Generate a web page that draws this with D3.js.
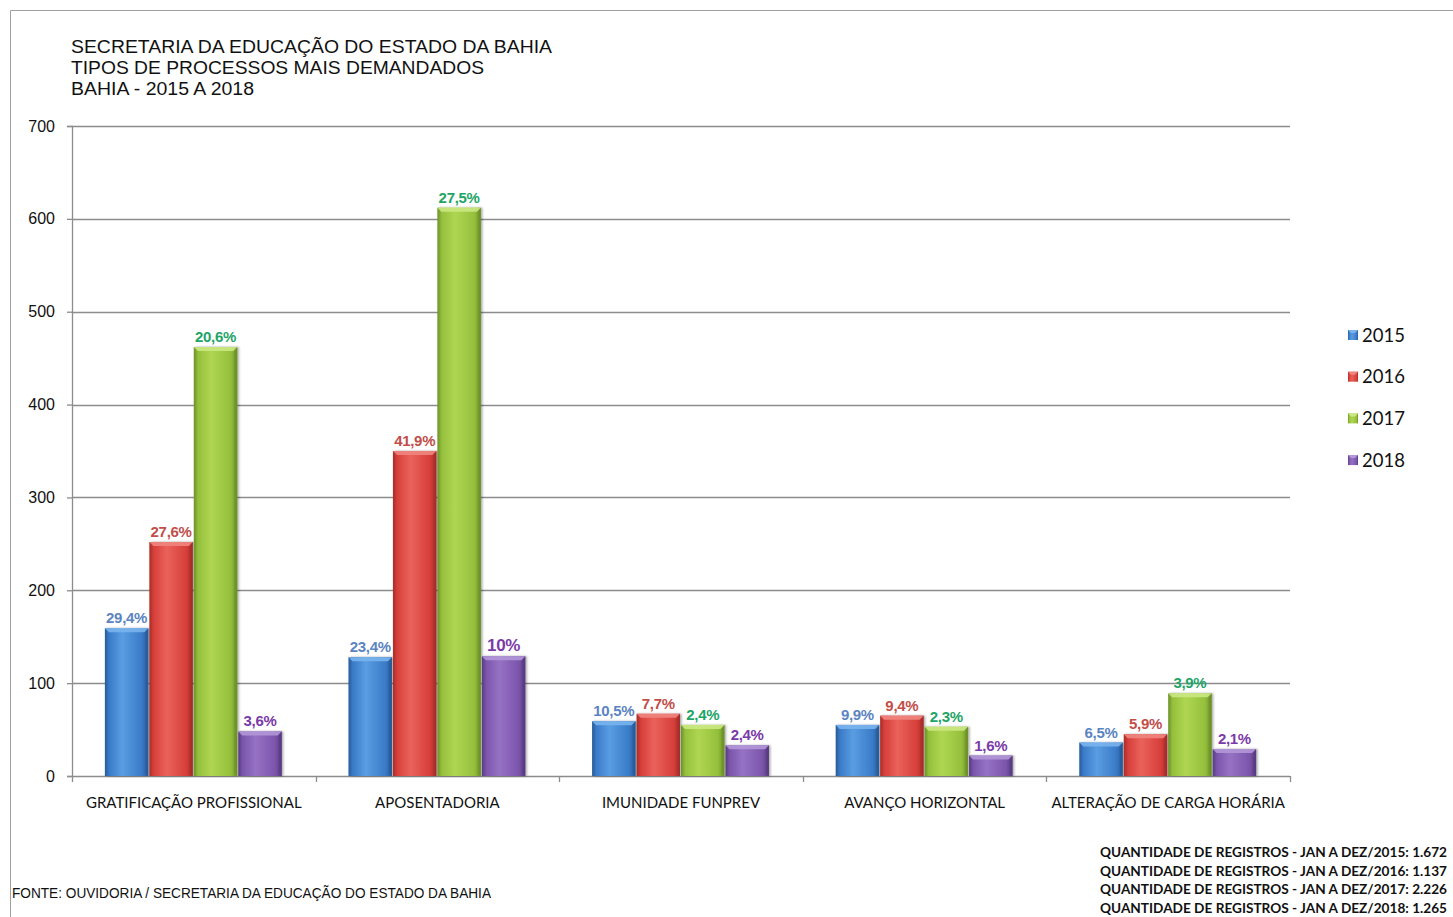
<!DOCTYPE html>
<html>
<head>
<meta charset="utf-8">
<script src="https://cdn.jsdelivr.net/npm/d3@7"></script>
<style>
  html, body { margin: 0; padding: 0; background: #fff; }
  svg { display: block; }
</style>
</head>
<body>
<svg id="chart" width="1453" height="917"></svg>
<script>
// Categories and yearly series
const categories = ["GRATIFICAÇÃO PROFISSIONAL", "APOSENTADORIA", "IMUNIDADE FUNPREV", "AVANÇO HORIZONTAL", "ALTERAÇÃO DE CARGA HORÁRIA"];
const years = ["2015", "2016", "2017", "2018"];
const values2015 = [159, 128, 59, 55, 36];
const values2016 = [252, 350, 67, 65, 45];
const values2017 = [462, 612, 55, 53, 89];
const values2018 = [48, 129, 33, 22, 29];
const labels2015 = ["29,4%", "23,4%", "10,5%", "9,9%", "6,5%"];
const labels2016 = ["27,6%", "41,9%", "7,7%", "9,4%", "5,9%"];
const labels2017 = ["20,6%", "27,5%", "2,4%", "2,3%", "3,9%"];
const labels2018 = ["3,6%", "10%", "2,4%", "1,6%", "2,1%"];
const yTicks = [0, 100, 200, 300, 400, 500, 600, 700];
const titleLines = ["SECRETARIA  DA EDUCAÇÃO DO ESTADO DA BAHIA", "TIPOS DE PROCESSOS MAIS DEMANDADOS", "BAHIA - 2015 A 2018"];
const titleWidths = [481, 413, 183];
const sourceText = "FONTE: OUVIDORIA / SECRETARIA DA EDUCAÇÃO DO ESTADO DA BAHIA";
const totalsLines = [
  "QUANTIDADE DE REGISTROS - JAN A DEZ/2015:  1.672",
  "QUANTIDADE DE REGISTROS - JAN A DEZ/2016:  1.137",
  "QUANTIDADE DE REGISTROS - JAN A DEZ/2017:  2.226",
  "QUANTIDADE DE REGISTROS - JAN A DEZ/2018:  1.265"
];

const seriesValues = [values2015, values2016, values2017, values2018];
const seriesLabels = [labels2015, labels2016, labels2017, labels2018];
const barColors = [
  { base: "#3a7bc8", light: "#5a9de2", dark: "#285a98", top: "#79b4ee" },
  { base: "#d73f3a", light: "#ea625b", dark: "#a52d29", top: "#f0857f" },
  { base: "#95c03c", light: "#afd652", dark: "#6c9029", top: "#cbe883" },
  { base: "#7b55ab", light: "#9672c4", dark: "#573b80", top: "#b397d8" }
];
const labelColors = ["#5b84c2", "#c24e4a", "#1ea467", "#7a3aa8"];

const svg = d3.select("#chart");
const margin = { left: 72, right: 1290, top: 126, bottom: 776 };

const x0 = d3.scaleBand().domain(categories).range([margin.left, margin.right]).paddingInner(0.27).paddingOuter(0.135);
const x1 = d3.scaleBand().domain(years).range([0, x0.bandwidth()]).padding(0);
const y = d3.scaleLinear().domain([0, 700]).range([margin.bottom, margin.top]);

// Gradients for the bevelled bars
const defs = svg.append("defs");
barColors.forEach((c, i) => {
  const g = defs.append("linearGradient").attr("id", "grad" + i).attr("x1", "0").attr("x2", "1").attr("y1", "0").attr("y2", "0");
  g.append("stop").attr("offset", "0").attr("stop-color", c.dark);
  g.append("stop").attr("offset", "0.1").attr("stop-color", c.base);
  g.append("stop").attr("offset", "0.4").attr("stop-color", c.light);
  g.append("stop").attr("offset", "0.85").attr("stop-color", c.base);
  g.append("stop").attr("offset", "1").attr("stop-color", c.dark);
});
const sh = defs.append("filter").attr("id", "shadow").attr("x", "-20%").attr("y", "-5%").attr("width", "140%").attr("height", "110%");
sh.append("feDropShadow").attr("dx", 1.5).attr("dy", 0).attr("stdDeviation", 1.2).attr("flood-color", "#000").attr("flood-opacity", 0.35);

// Outer frame
svg.append("path").attr("d", "M10.5,917 V10.5 H1453").attr("fill", "none").attr("stroke", "#a0a0a0").attr("stroke-width", 1);

// Fit a text element to a given width
function fitWidth(sel, w) {
  sel.attr("textLength", w).attr("lengthAdjust", "spacingAndGlyphs");
}

// Title
svg.append("g").selectAll("text").data(titleLines).join("text")
  .attr("x", 71).attr("y", (d, i) => 53 + i * 21)
  .attr("font-family", "'Liberation Sans', Arial, sans-serif").attr("font-size", 18)
  .attr("fill", "#111").text(d => d)
  .each(function (d, i) { fitWidth(d3.select(this), titleWidths[i]); });

// Gridlines
svg.append("g").selectAll("line").data(yTicks.filter(t => t > 0)).join("line")
  .attr("x1", margin.left).attr("x2", margin.right)
  .attr("y1", d => Math.round(y(d)) + 0.5).attr("y2", d => Math.round(y(d)) + 0.5)
  .attr("stroke", "#8c8c8c").attr("stroke-width", 1.3);

// Y axis
const yAxis = svg.append("g").attr("transform", `translate(${margin.left},0)`)
  .call(d3.axisLeft(y).tickValues(yTicks).tickSize(5).tickPadding(12));
yAxis.attr("font-size", null).attr("font-family", null);
yAxis.select(".domain").attr("stroke", "#8c8c8c").attr("stroke-width", 1.3);
yAxis.selectAll(".tick line").attr("stroke", "#8c8c8c").attr("stroke-width", 1.3);
yAxis.selectAll(".tick text")
  .style("font-family", "'Liberation Sans', Arial, sans-serif").style("font-size", "16px").attr("fill", "#111");

// X axis line with ticks at category boundaries
const boundaries = categories.map(c => x0(c) - x0.step() * x0.paddingInner() / 2).concat([margin.right]);
svg.append("line").attr("x1", margin.left).attr("x2", margin.right)
  .attr("y1", margin.bottom + 0.5).attr("y2", margin.bottom + 0.5)
  .attr("stroke", "#8c8c8c").attr("stroke-width", 1.3);
svg.append("g").selectAll("line").data(boundaries).join("line")
  .attr("x1", d => Math.round(d) + 0.5).attr("x2", d => Math.round(d) + 0.5)
  .attr("y1", margin.bottom).attr("y2", margin.bottom + 6)
  .attr("stroke", "#8c8c8c").attr("stroke-width", 1.3);

// Category labels
svg.append("g").selectAll("text").data(categories).join("text")
  .attr("x", d => x0(d) + x0.bandwidth() / 2).attr("y", 808)
  .attr("text-anchor", "middle")
  .attr("font-family", "Lato, 'Open Sans', sans-serif").attr("font-size", 15)
  .attr("fill", "#111").text(d => d);

// Bars
const bars = svg.append("g");
years.forEach((yr, si) => {
  const g = bars.append("g");
  const data = categories.map((c, ci) => ({ c, v: seriesValues[si][ci], label: seriesLabels[si][ci] }));
  const bx = d => x0(d.c) + x1(yr);
  const bw = x1.bandwidth() - 1;
  g.selectAll("rect.bar").data(data).join("rect").attr("class", "bar")
    .attr("x", bx).attr("width", bw)
    .attr("y", d => y(d.v)).attr("height", d => y(0) - y(d.v))
    .attr("fill", `url(#grad${si})`).attr("filter", "url(#shadow)");
  // top bevel
  g.selectAll("path.bevel").data(data).join("path").attr("class", "bevel")
    .attr("d", d => {
      const xl = bx(d), yt = y(d.v), b = 4;
      return `M${xl},${yt} H${xl + bw} L${xl + bw - b},${yt + b} H${xl + b} Z`;
    })
    .attr("fill", barColors[si].top).attr("opacity", 0.9);
  // right bevel edge
  g.selectAll("path.bevel-side").data(data).join("path").attr("class", "bevel-side")
    .attr("d", d => {
      const xl = bx(d), yt = y(d.v), yb = y(0), b = 3;
      return `M${xl + bw},${yt} L${xl + bw - b},${yt + 4} V${yb - 2} L${xl + bw},${yb} Z`;
    })
    .attr("fill", barColors[si].dark).attr("opacity", 0.6);
  // value labels
  g.selectAll("text").data(data).join("text")
    .attr("x", d => bx(d) + bw / 2).attr("y", d => y(d.v) - 5)
    .attr("text-anchor", "middle")
    .attr("font-family", "'Liberation Sans', Arial, sans-serif").attr("font-weight", "bold")
    .attr("font-size", d => d.label === "10%" ? 17 : 15)
    .attr("letter-spacing", -0.3)
    .attr("fill", labelColors[si]).text(d => d.label);
});

// Legend
const legend = svg.append("g").attr("transform", "translate(1348,0)");
years.forEach((yr, i) => {
  const cy = 335 + i * 41.7;
  legend.append("rect").attr("x", 0).attr("y", cy - 5).attr("width", 10).attr("height", 10)
    .attr("fill", `url(#grad${i})`);
  legend.append("path").attr("d", `M0,${cy - 5} H10 L7,${cy - 2} H3 Z`).attr("fill", barColors[i].top);
  legend.append("text").attr("x", 14).attr("y", cy + 6.5)
    .attr("font-family", "Lato, 'Open Sans', sans-serif").attr("font-size", 18.5)
    .attr("fill", "#111").text(yr);
});

// Source note
svg.append("text").attr("x", 12).attr("y", 898)
  .attr("font-family", "'Liberation Sans', Arial, sans-serif").attr("font-size", 15)
  .attr("fill", "#111").text(sourceText)
  .call(fitWidth, 479);

// Yearly totals
svg.append("g").selectAll("text").data(totalsLines).join("text")
  .attr("x", 1100).attr("y", (d, i) => 857 + i * 18.5)
  .attr("font-family", "Lato, 'Open Sans', sans-serif").attr("font-weight", "bold").attr("font-size", 13)
  .attr("fill", "#111").text(d => d)
  .call(fitWidth, 347);
</script>
</body>
</html>
